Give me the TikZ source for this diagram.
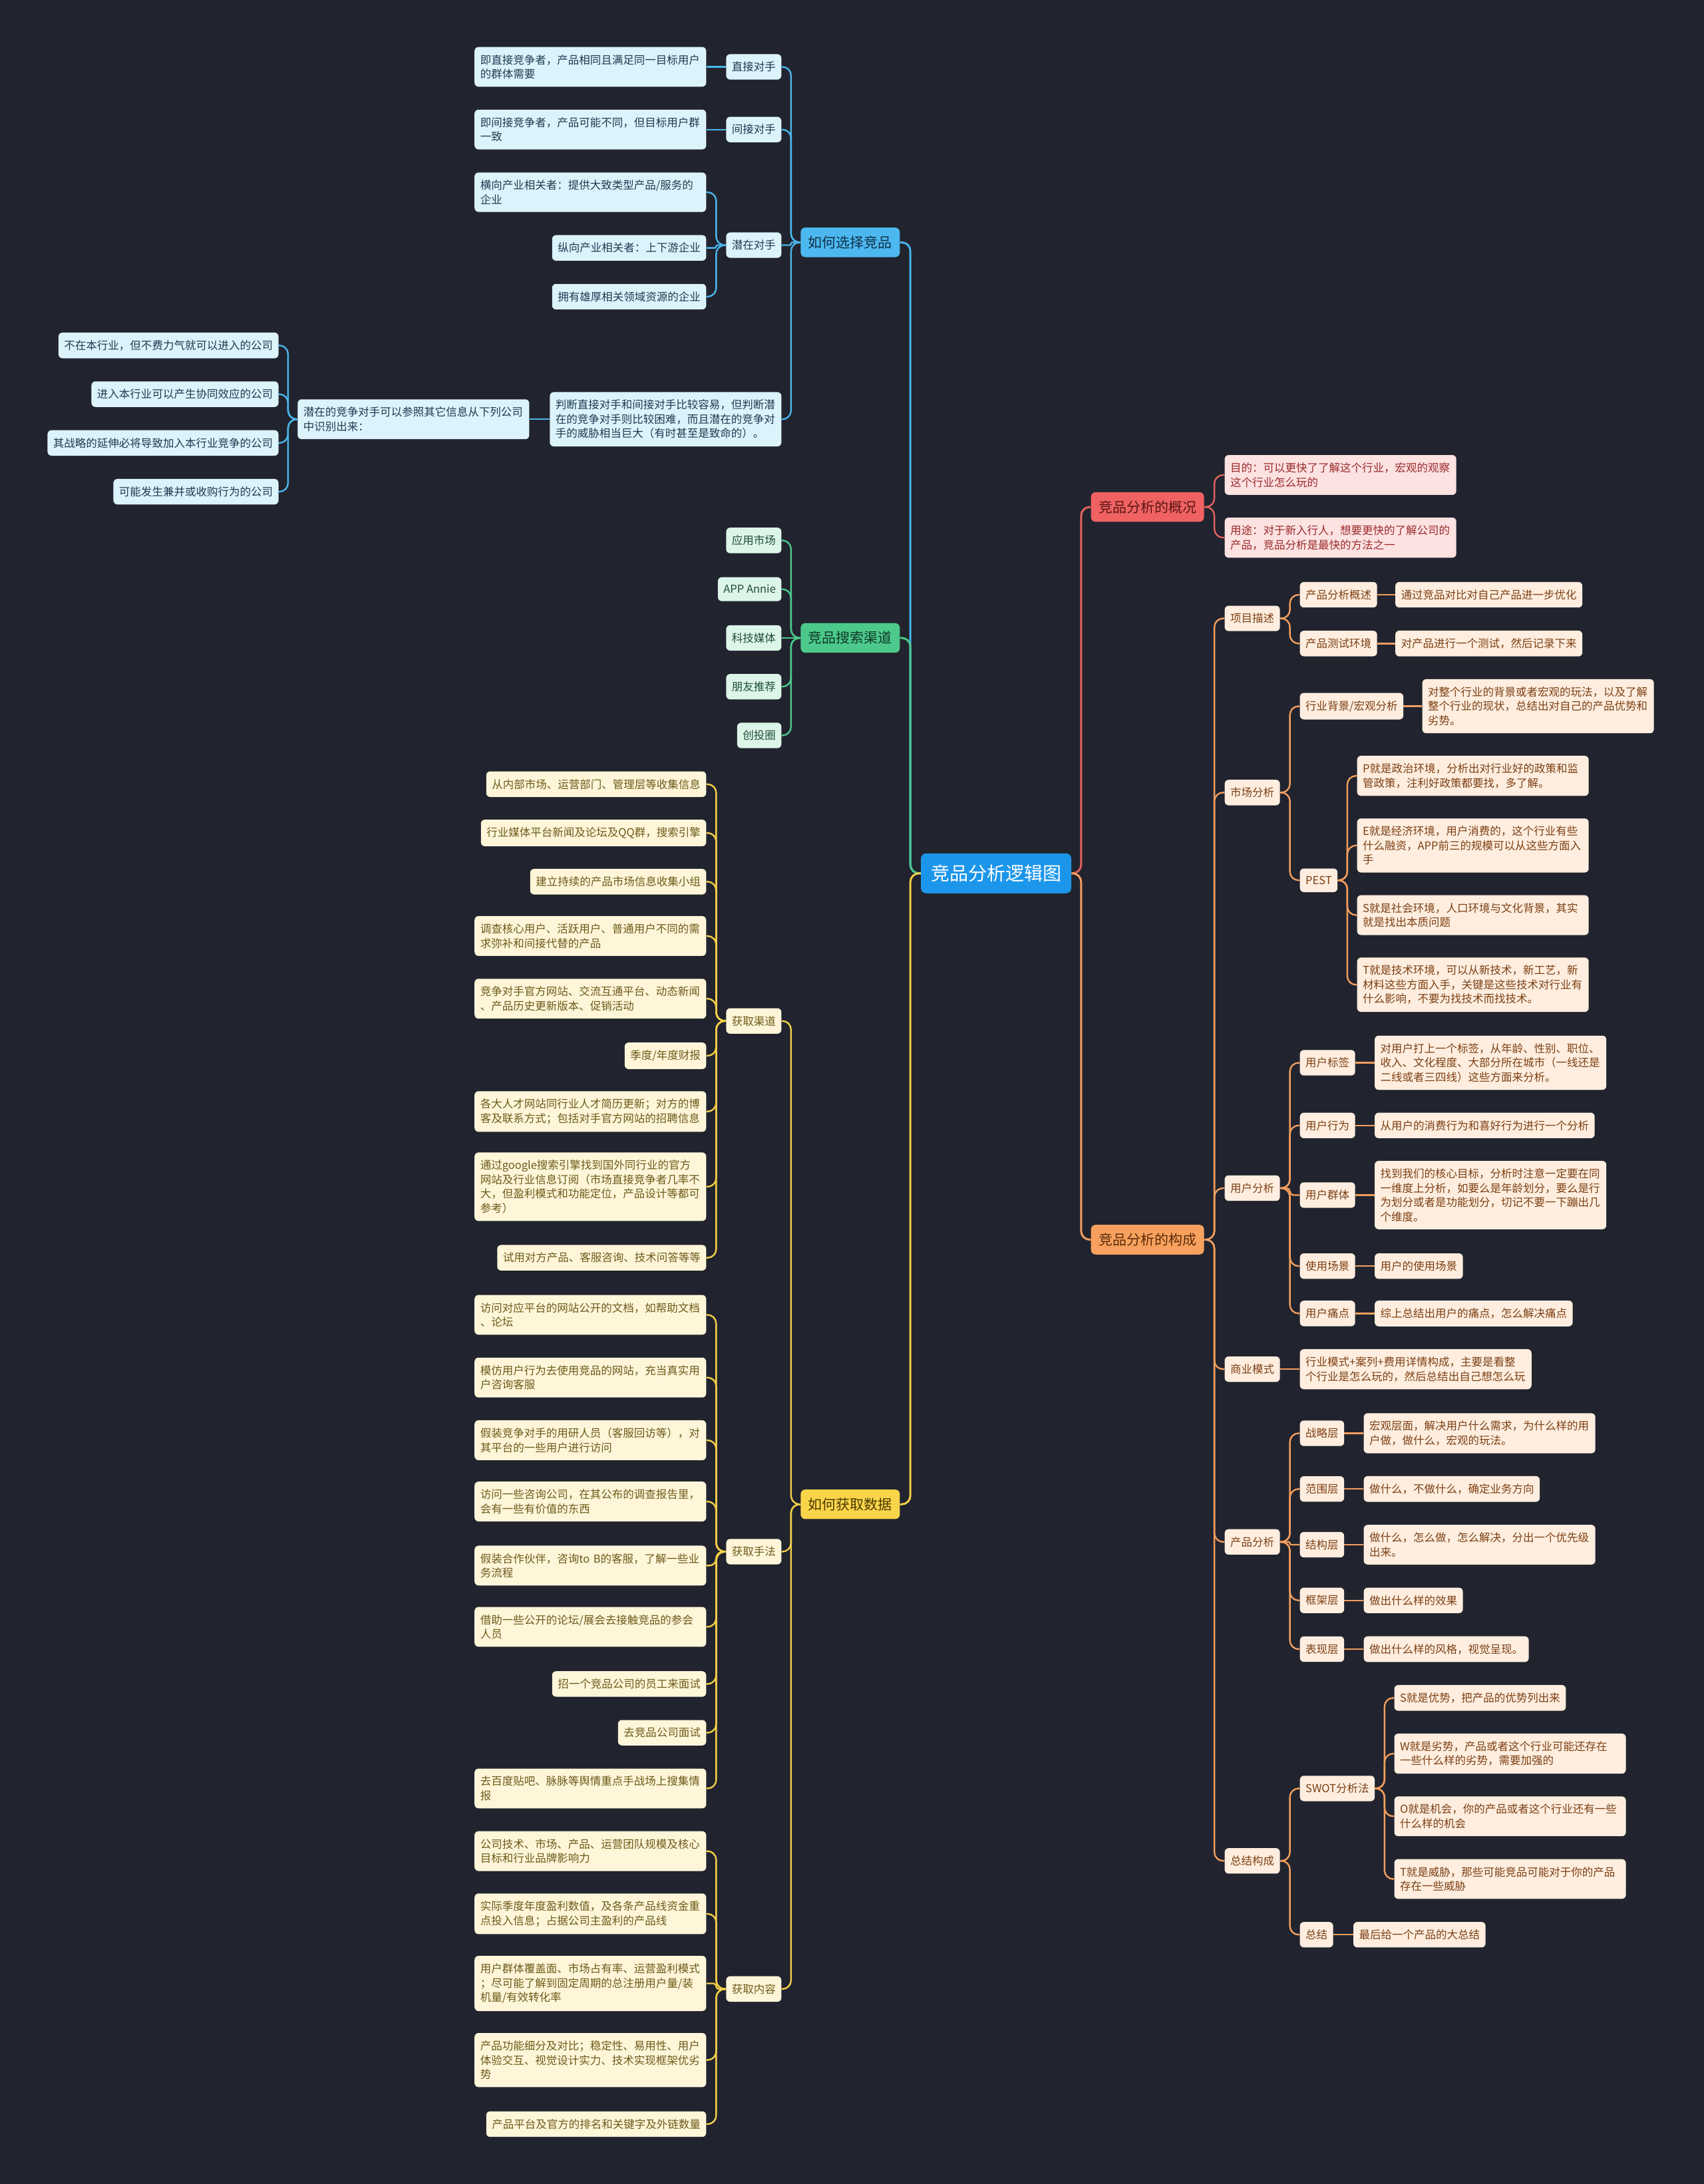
\documentclass[tikz,border=0pt]{standalone}
\usepackage{fontspec}
\setmainfont{Noto Sans CJK SC}
\usetikzlibrary{calc,positioning}
\definecolor{bg}{HTML}{21242E}
\definecolor{rootC}{HTML}{1C96EB}
\definecolor{blM}{HTML}{4DB8F0}\definecolor{blD}{HTML}{0F3046}
\definecolor{blL}{HTML}{DDF3FC}\definecolor{blT}{HTML}{1D3B4F}\definecolor{blC}{HTML}{4AB5EA}
\definecolor{grM}{HTML}{4CC98B}\definecolor{grD}{HTML}{0E3A25}
\definecolor{grL}{HTML}{DDF5E8}\definecolor{grT}{HTML}{1F4D36}\definecolor{grC}{HTML}{4CC98B}
\definecolor{ylM}{HTML}{FAD54A}\definecolor{ylD}{HTML}{4A3A00}
\definecolor{ylL}{HTML}{FFF6D9}\definecolor{ylT}{HTML}{6B5A1A}\definecolor{ylC}{HTML}{F4CE48}
\definecolor{rdM}{HTML}{F06262}\definecolor{rdD}{HTML}{5A1515}
\definecolor{rdL}{HTML}{FDE2E2}\definecolor{rdT}{HTML}{9A2A2A}\definecolor{rdC}{HTML}{E0625F}
\definecolor{orM}{HTML}{F8A15E}\definecolor{orD}{HTML}{5A2A08}
\definecolor{orL}{HTML}{FFEEDF}\definecolor{orT}{HTML}{7B3F14}\definecolor{orC}{HTML}{F29E5E}
\tikzset{
  nd/.style={rounded corners=6pt, inner xsep=8.5pt, inner ysep=11.5pt, font=\fontsize{16.5}{21.5}\selectfont, align=left},
  wd/.style={text width=331pt},
  blN/.style={nd, fill=blL, text=blT},
  grN/.style={nd, fill=grL, text=grT},
  ylN/.style={nd, fill=ylL, text=ylT},
  rdN/.style={nd, fill=rdL, text=rdT},
  orN/.style={nd, fill=orL, text=orT},
  topN/.style={rounded corners=7pt, inner xsep=11.5pt, inner ysep=12.5pt, font=\fontsize{21}{26}\selectfont},
  rootN/.style={rounded corners=8pt, inner xsep=15pt, inner ysep=17pt, font=\fontsize{28}{34}\selectfont, fill=rootC, text=white},
  cn/.style={line width=2.4pt},
}
\newcommand\lkL[3]{\draw[cn,#1] let \p1=(#2.west), \p2=(#3.east), \n1={min(13,abs(\y2-\y1)/2)} in [rounded corners=\n1] (\p1) -- ({(\x1+\x2)/2},\y1) |- (\p2);}
\newcommand\lkR[3]{\draw[cn,#1] let \p1=(#2.east), \p2=(#3.west), \n1={min(13,abs(\y2-\y1)/2)} in [rounded corners=\n1] (\p1) -- ({(\x1+\x2)/2},\y1) |- (\p2);}
\begin{document}
\begin{tikzpicture}[x=2.0932pt,y=-2.0932pt]
\fill[bg] (0,0) rectangle (1223,1568);
\useasboundingbox (0,0) rectangle (1223,1568);
% root and level 1
\node[rootN] (root) at (715,627) {竞品分析逻辑图};
\node[topN, fill=blM, text=blD, anchor=east] (b0) at (646,174) {如何选择竞品};
\node[topN, fill=grM, text=grD, anchor=east] (g0) at (646,458) {竞品搜索渠道};
\node[topN, fill=ylM, text=ylD, anchor=east] (y0) at (646,1080) {如何获取数据};
\node[topN, fill=rdM, text=rdD, anchor=west] (r0) at (783,364) {竞品分析的概况};
\node[topN, fill=orM, text=orD, anchor=west] (o0) at (783,890) {竞品分析的构成};
% blue branch
\node[blN, anchor=east] (b1) at (561,48) {直接对手};
\node[blN, anchor=east] (b2) at (561,93) {间接对手};
\node[blN, anchor=east] (b3) at (561,176) {潜在对手};
\node[blN, wd, anchor=east] (b4) at (561,301) {判断直接对手和间接对手比较容易，但判断潜\\在的竞争对手则比较困难，而且潜在的竞争对\\手的威胁相当巨大（有时甚至是致命的）。};
\node[blN, wd, anchor=east] (ba1) at (507,48) {即直接竞争者，产品相同且满足同一目标用户\\的群体需要};
\node[blN, wd, anchor=east] (ba2) at (507,93) {即间接竞争者，产品可能不同，但目标用户群\\一致};
\node[blN, wd, anchor=east] (ba3) at (507,138) {横向产业相关者：提供大致类型产品/服务的\\企业};
\node[blN, anchor=east] (ba4) at (507,178) {纵向产业相关者：上下游企业};
\node[blN, anchor=east] (ba5) at (507,213) {拥有雄厚相关领域资源的企业};
\node[blN, wd, anchor=east] (bp) at (380,301) {潜在的竞争对手可以参照其它信息从下列公司\\中识别出来：};
\node[blN, anchor=east] (bf1) at (200,248) {不在本行业，但不费力气就可以进入的公司};
\node[blN, anchor=east] (bf2) at (200,283) {进入本行业可以产生协同效应的公司};
\node[blN, anchor=east] (bf3) at (200,318) {其战略的延伸必将导致加入本行业竞争的公司};
\node[blN, anchor=east] (bf4) at (200,353) {可能发生兼并或收购行为的公司};
% green branch
\node[grN, anchor=east] (g1) at (561,388) {应用市场};
\node[grN, anchor=east] (g2) at (561,423) {APP Annie};
\node[grN, anchor=east] (g3) at (561,458) {科技媒体};
\node[grN, anchor=east] (g4) at (561,493) {朋友推荐};
\node[grN, anchor=east] (g5) at (561,528) {创投圈};
% yellow branch
\node[ylN, anchor=east] (y1) at (561,733) {获取渠道};
\node[ylN, anchor=east] (y2) at (561,1114) {获取手法};
\node[ylN, anchor=east] (y3) at (561,1428) {获取内容};
\node[ylN, anchor=east] (yc1) at (507,563) {从内部市场、运营部门、管理层等收集信息};
\node[ylN, anchor=east] (yc2) at (507,598) {行业媒体平台新闻及论坛及QQ群，搜索引擎};
\node[ylN, anchor=east] (yc3) at (507,633) {建立持续的产品市场信息收集小组};
\node[ylN, wd, anchor=east] (yc4) at (507,672) {调查核心用户、活跃用户、普通用户不同的需\\求弥补和间接代替的产品};
\node[ylN, wd, anchor=east] (yc5) at (507,717) {竞争对手官方网站、交流互通平台、动态新闻\\、产品历史更新版本、促销活动};
\node[ylN, anchor=east] (yc6) at (507,758) {季度/年度财报};
\node[ylN, wd, anchor=east] (yc7) at (507,798) {各大人才网站同行业人才简历更新；对方的博\\客及联系方式；包括对手官方网站的招聘信息};
\node[ylN, wd, anchor=east] (yc8) at (507,852) {通过google搜索引擎找到国外同行业的官方\\网站及行业信息订阅（市场直接竞争者几率不\\大，但盈利模式和功能定位，产品设计等都可\\参考）};
\node[ylN, anchor=east] (yc9) at (507,903) {试用对方产品、客服咨询、技术问答等等};
\node[ylN, wd, anchor=east] (ym1) at (507,944) {访问对应平台的网站公开的文档，如帮助文档\\、论坛};
\node[ylN, wd, anchor=east] (ym2) at (507,989) {模仿用户行为去使用竞品的网站，充当真实用\\户咨询客服};
\node[ylN, wd, anchor=east] (ym3) at (507,1034) {假装竞争对手的用研人员（客服回访等），对\\其平台的一些用户进行访问};
\node[ylN, wd, anchor=east] (ym4) at (507,1078) {访问一些咨询公司，在其公布的调查报告里，\\会有一些有价值的东西};
\node[ylN, wd, anchor=east] (ym5) at (507,1124) {假装合作伙伴，咨询to B的客服，了解一些业\\务流程};
\node[ylN, wd, anchor=east] (ym6) at (507,1168) {借助一些公开的论坛/展会去接触竞品的参会\\人员};
\node[ylN, anchor=east] (ym7) at (507,1209) {招一个竞品公司的员工来面试};
\node[ylN, anchor=east] (ym8) at (507,1244) {去竞品公司面试};
\node[ylN, wd, anchor=east] (ym9) at (507,1284) {去百度贴吧、脉脉等舆情重点手战场上搜集情\\报};
\node[ylN, wd, anchor=east] (yn1) at (507,1329) {公司技术、市场、产品、运营团队规模及核心\\目标和行业品牌影响力};
\node[ylN, wd, anchor=east] (yn2) at (507,1374) {实际季度年度盈利数值，及各条产品线资金重\\点投入信息；占据公司主盈利的产品线};
\node[ylN, wd, anchor=east] (yn3) at (507,1424) {用户群体覆盖面、市场占有率、运营盈利模式\\；尽可能了解到固定周期的总注册用户量/装\\机量/有效转化率};
\node[ylN, wd, anchor=east] (yn4) at (507,1479) {产品功能细分及对比；稳定性、易用性、用户\\体验交互、视觉设计实力、技术实现框架优劣\\势};
\node[ylN, anchor=east] (yn5) at (507,1525) {产品平台及官方的排名和关键字及外链数量};
% red branch
\node[rdN, wd, anchor=west] (r1) at (879,341) {目的：可以更快了了解这个行业，宏观的观察\\这个行业怎么玩的};
\node[rdN, wd, anchor=west] (r2) at (879,386) {用途：对于新入行人，想要更快的了解公司的\\产品，竞品分析是最快的方法之一};
% orange branch level 2
\node[orN, anchor=west] (o1) at (879,444) {项目描述};
\node[orN, anchor=west] (o2) at (879,569) {市场分析};
\node[orN, anchor=west] (o3) at (879,853) {用户分析};
\node[orN, anchor=west] (o4) at (879,983) {商业模式};
\node[orN, anchor=west] (o5) at (879,1107) {产品分析};
\node[orN, anchor=west] (o6) at (879,1336) {总结构成};
% level 3
\node[orN, anchor=west] (o11) at (933,427) {产品分析概述};
\node[orN, anchor=west] (o12) at (933,462) {产品测试环境};
\node[orN, anchor=west] (o21) at (933,507) {行业背景/宏观分析};
\node[orN, anchor=west] (o22) at (933,632) {PEST};
\node[orN, anchor=west] (o31) at (933,763) {用户标签};
\node[orN, anchor=west] (o32) at (933,808) {用户行为};
\node[orN, anchor=west] (o33) at (933,858) {用户群体};
\node[orN, anchor=west] (o34) at (933,909) {使用场景};
\node[orN, anchor=west] (o35) at (933,943) {用户痛点};
\node[orN, wd, anchor=west] (o41) at (933,983) {行业模式+案列+费用详情构成，主要是看整\\个行业是怎么玩的，然后总结出自己想怎么玩};
\node[orN, anchor=west] (o51) at (933,1029) {战略层};
\node[orN, anchor=west] (o52) at (933,1069) {范围层};
\node[orN, anchor=west] (o53) at (933,1109) {结构层};
\node[orN, anchor=west] (o54) at (933,1149) {框架层};
\node[orN, anchor=west] (o55) at (933,1184) {表现层};
\node[orN, anchor=west] (o61) at (933,1284) {SWOT分析法};
\node[orN, anchor=west] (o62) at (933,1389) {总结};
% level 4
\node[orN, right=27pt of o11] (o111) {通过竞品对比对自己产品进一步优化};
\node[orN, right=27pt of o12] (o121) {对产品进行一个测试，然后记录下来};
\node[orN, wd, right=28pt of o21] (o211) {对整个行业的背景或者宏观的玩法，以及了解\\整个行业的现状，总结出对自己的产品优势和\\劣势。};
\coordinate (px) at ([xshift=29pt]o22.east);
\node[orN, wd, anchor=west] (o221) at (px |- 0,557) {P就是政治环境，分析出对行业好的政策和监\\管政策，注利好政策都要找，多了解。};
\node[orN, wd, anchor=west] (o222) at (px |- 0,607) {E就是经济环境，用户消费的，这个行业有些\\什么融资，APP前三的规模可以从这些方面入\\手};
\node[orN, wd, anchor=west] (o223) at (px |- 0,657) {S就是社会环境，人口环境与文化背景，其实\\就是找出本质问题};
\node[orN, wd, anchor=west] (o224) at (px |- 0,707) {T就是技术环境，可以从新技术，新工艺，新\\材料这些方面入手，关键是这些技术对行业有\\什么影响，不要为找技术而找技术。};
\node[orN, wd, right=29pt of o31] (o311) {对用户打上一个标签，从年龄、性别、职位、\\收入、文化程度、大部分所在城市（一线还是\\二线或者三四线）这些方面来分析。};
\node[orN, right=29pt of o32] (o321) {从用户的消费行为和喜好行为进行一个分析};
\node[orN, wd, right=29pt of o33] (o331) {找到我们的核心目标，分析时注意一定要在同\\一维度上分析，如要么是年龄划分，要么是行\\为划分或者是功能划分，切记不要一下蹦出几\\个维度。};
\node[orN, right=29pt of o34] (o341) {用户的使用场景};
\node[orN, right=29pt of o35] (o351) {综上总结出用户的痛点，怎么解决痛点};
\node[orN, wd, right=29pt of o51] (o511) {宏观层面，解决用户什么需求，为什么样的用\\户做，做什么，宏观的玩法。};
\node[orN, right=29pt of o52] (o521) {做什么，不做什么，确定业务方向};
\node[orN, wd, right=29pt of o53] (o531) {做什么，怎么做，怎么解决，分出一个优先级\\出来。};
\node[orN, right=29pt of o54] (o541) {做出什么样的效果};
\node[orN, right=29pt of o55] (o551) {做出什么样的风格，视觉呈现。};
\coordinate (sx) at ([xshift=29pt]o61.east);
\node[orN, anchor=west] (o611) at (sx |- 0,1219) {S就是优势，把产品的优势列出来};
\node[orN, wd, anchor=west] (o612) at (sx |- 0,1259) {W就是劣势，产品或者这个行业可能还存在\\一些什么样的劣势，需要加强的};
\node[orN, wd, anchor=west] (o613) at (sx |- 0,1304) {O就是机会，你的产品或者这个行业还有一些\\什么样的机会};
\node[orN, wd, anchor=west] (o614) at (sx |- 0,1349) {T就是威胁，那些可能竞品可能对于你的产品\\存在一些威胁};
\node[orN, right=30pt of o62] (o621) {最后给一个产品的大总结};
% connectors root
\lkL{blC,line width=3pt}{root}{b0}
\lkL{grC,line width=3pt}{root}{g0}
\lkL{ylC,line width=3pt}{root}{y0}
\lkR{rdC,line width=3pt}{root}{r0}
\lkR{orC,line width=3pt}{root}{o0}
% blue
\lkL{blC}{b0}{b1}\lkL{blC}{b0}{b2}\lkL{blC}{b0}{b3}\lkL{blC}{b0}{b4}
\lkL{blC}{b1}{ba1}\lkL{blC}{b2}{ba2}
\lkL{blC}{b3}{ba3}\lkL{blC}{b3}{ba4}\lkL{blC}{b3}{ba5}
\lkL{blC}{b4}{bp}
\lkL{blC}{bp}{bf1}\lkL{blC}{bp}{bf2}\lkL{blC}{bp}{bf3}\lkL{blC}{bp}{bf4}
% green
\lkL{grC}{g0}{g1}\lkL{grC}{g0}{g2}\lkL{grC}{g0}{g3}\lkL{grC}{g0}{g4}\lkL{grC}{g0}{g5}
% yellow
\lkL{ylC}{y0}{y1}\lkL{ylC}{y0}{y2}\lkL{ylC}{y0}{y3}
\foreach \k in {1,...,9}{\lkL{ylC}{y1}{yc\k}}
\foreach \k in {1,...,9}{\lkL{ylC}{y2}{ym\k}}
\foreach \k in {1,...,5}{\lkL{ylC}{y3}{yn\k}}
% red
\lkR{rdC}{r0}{r1}\lkR{rdC}{r0}{r2}
% orange
\foreach \k in {1,...,6}{\lkR{orC}{o0}{o\k}}
\lkR{orC}{o1}{o11}\lkR{orC}{o1}{o12}
\lkR{orC}{o11}{o111}\lkR{orC}{o12}{o121}
\lkR{orC}{o2}{o21}\lkR{orC}{o2}{o22}\lkR{orC}{o21}{o211}
\foreach \k in {1,...,4}{\lkR{orC}{o22}{o22\k}}
\foreach \k in {1,...,5}{\lkR{orC}{o3}{o3\k}\lkR{orC}{o3\k}{o3\k1}}
\lkR{orC}{o4}{o41}
\foreach \k in {1,...,5}{\lkR{orC}{o5}{o5\k}\lkR{orC}{o5\k}{o5\k1}}
\lkR{orC}{o6}{o61}\lkR{orC}{o6}{o62}
\foreach \k in {1,...,4}{\lkR{orC}{o61}{o61\k}}
\lkR{orC}{o62}{o621}
\end{tikzpicture}
\end{document}
